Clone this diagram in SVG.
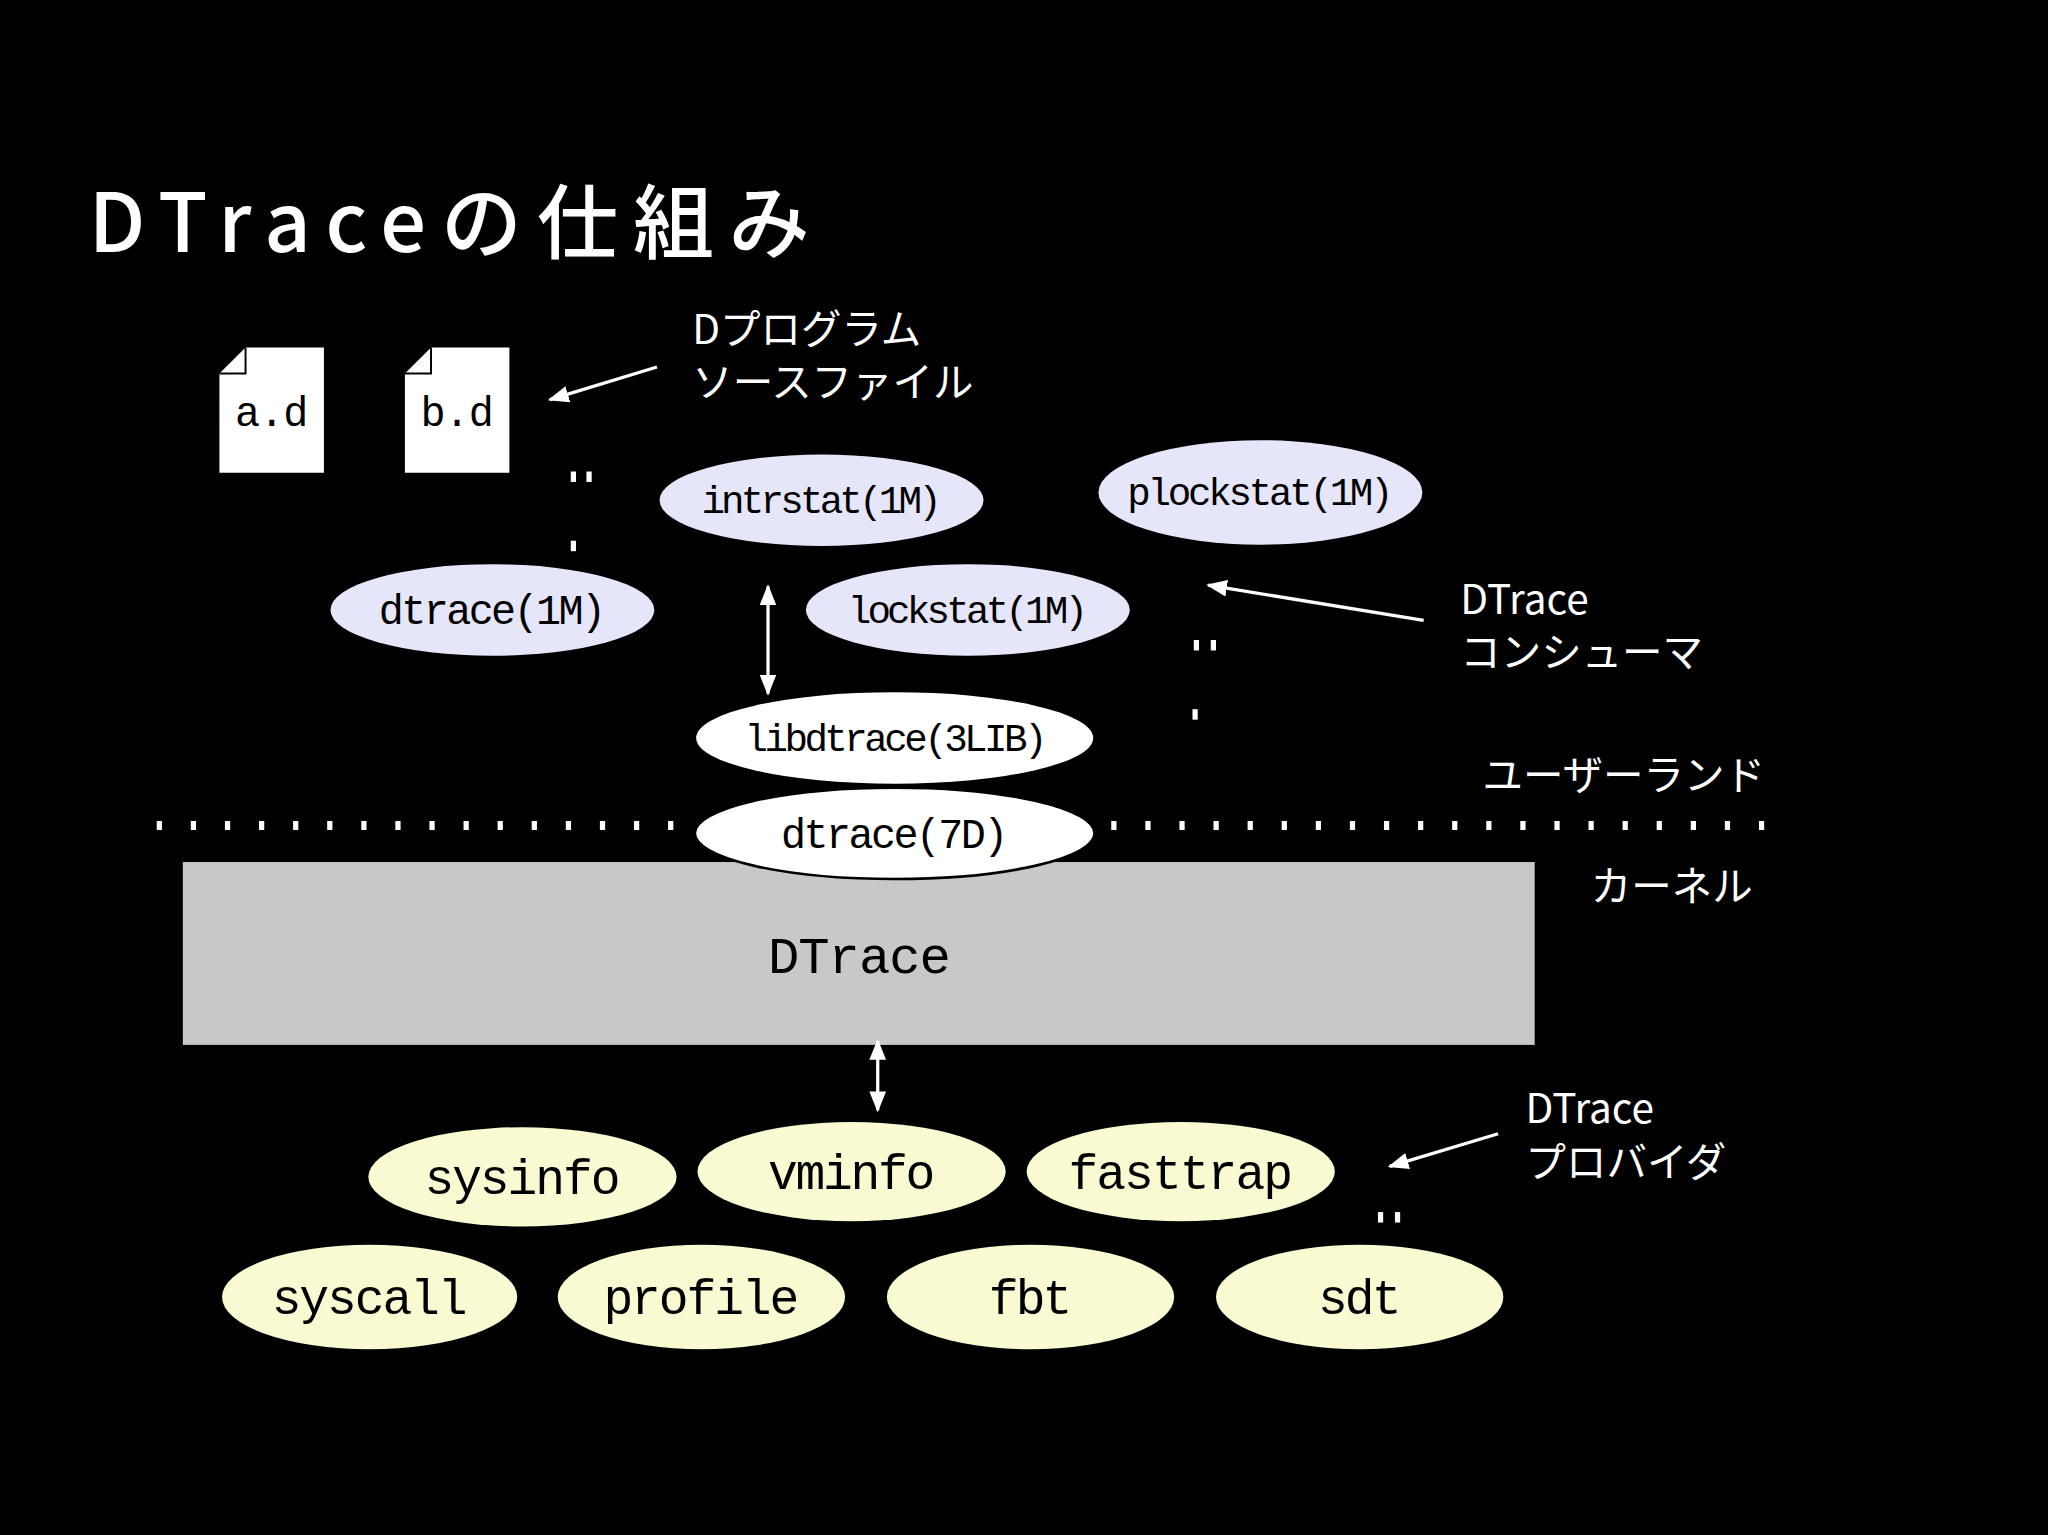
<svg xmlns="http://www.w3.org/2000/svg" width="2048" height="1535" viewBox="0 0 2048 1535">
<style>
.m{font-family:"Liberation Mono","DejaVu Sans Mono",monospace;fill:#000;text-anchor:middle}
.j{font-family:"Noto Sans CJK JP","Noto Sans",sans-serif;fill:#fff;font-size:31px}
.lav{fill:#e6e6fa}
.yel{fill:#fafad2}
.ln{stroke:#fff;stroke-width:2.5;fill:none}
</style>
<defs>
<marker id="ah2" viewBox="0 0 10 10" refX="9" refY="5" markerWidth="16" markerHeight="16" orient="auto-start-reverse" markerUnits="userSpaceOnUse"><path d="M0,1L10,5L0,9z" fill="#fff"/></marker>
</defs>
<rect width="2048" height="1535" fill="#000"/>
<g transform="scale(1.30612)">
<text x="68" y="193" font-family="Noto Sans CJK JP,sans-serif" font-size="62" font-weight="500" fill="#fff" textLength="552">DTraceの仕組み</text>
<g id="file-a"><path d="M188,266H248V362H168V286z" fill="#fff"/><path d="M188,266V286H168" fill="none" stroke="#000" stroke-width="1.5"/><text class="m" x="208" y="326" font-size="32" textLength="56">a.d</text></g>
<g id="file-b"><path d="M330,266H390V362H310V286z" fill="#fff"/><path d="M330,266V286H310" fill="none" stroke="#000" stroke-width="1.5"/><text class="m" x="350" y="326" font-size="32" textLength="56">b.d</text></g>
<g id="label-src"><text class="j" x="530" y="263">Dプログラム</text><text class="j" x="530" y="304">ソースファイル</text></g>
<g id="dots" fill="#fff">
<rect x="437" y="361" width="4" height="8"/><rect x="449" y="361" width="4" height="8"/><rect x="437" y="414" width="4" height="8"/>
<rect x="914" y="490" width="4" height="8"/><rect x="927" y="490" width="4" height="8"/><rect x="913" y="543" width="4" height="8"/>
<rect x="1055" y="928" width="4" height="8"/><rect x="1068" y="928" width="4" height="8"/>
</g>
<g id="n-intrstat"><ellipse class="lav" cx="629" cy="383" rx="124" ry="35"/><text class="m" x="629" y="393" font-size="30" textLength="184">intrstat(1M)</text></g>
<g id="n-plockstat"><ellipse class="lav" cx="965" cy="377" rx="124" ry="40"/><text class="m" x="965" y="387" font-size="30" textLength="204">plockstat(1M)</text></g>
<g id="n-dtrace1m"><ellipse class="lav" cx="377" cy="467" rx="124" ry="35"/><text class="m" x="377" y="478" font-size="32" textLength="174">dtrace(1M)</text></g>
<g id="n-lockstat"><ellipse class="lav" cx="741" cy="467" rx="124" ry="35"/><text class="m" x="741" y="477" font-size="30" textLength="184">lockstat(1M)</text></g>
<g id="n-libdtrace"><ellipse fill="#fff" cx="685" cy="565" rx="152" ry="35"/><text class="m" x="686" y="575" font-size="30" textLength="232">libdtrace(3LIB)</text></g>
<g id="sep"><line x1="120" y1="632" x2="1372" y2="632" stroke="#fff" stroke-width="7" stroke-dasharray="4 22.1"/></g>
<g id="label-consumer"><text class="j" x="1118" y="470">DTrace</text><text class="j" x="1118" y="511">コンシューマ</text></g>
<g id="label-user"><text class="j" x="1135" y="605">ユーザーランド</text></g>
<g id="label-kernel"><text class="j" x="1218" y="690">カーネル</text></g>
<g id="n-dtrace-kernel"><rect x="140" y="660" width="1035" height="140" fill="#c8c8c8"/><text class="m" x="658" y="745" font-size="40" textLength="140">DTrace</text></g>
<g id="n-dtrace7d"><ellipse fill="#fff" stroke="#000" stroke-width="2" cx="685" cy="638" rx="153" ry="35"/><text class="m" x="685" y="649" font-size="32" textLength="174">dtrace(7D)</text></g>
<g id="label-provider"><text class="j" x="1168" y="860">DTrace</text><text class="j" x="1168" y="901">プロバイダ</text></g>
<g id="p-sysinfo"><ellipse class="yel" cx="400" cy="901" rx="118" ry="38"/><text class="m" x="400" y="914" font-size="38" textLength="150">sysinfo</text></g>
<g id="p-vminfo"><ellipse class="yel" cx="652" cy="897" rx="118" ry="38"/><text class="m" x="652" y="910" font-size="38" textLength="128">vminfo</text></g>
<g id="p-fasttrap"><ellipse class="yel" cx="904" cy="897" rx="118" ry="38"/><text class="m" x="904" y="910" font-size="38" textLength="172">fasttrap</text></g>
<g id="p-syscall"><ellipse class="yel" cx="283" cy="993" rx="113" ry="40"/><text class="m" x="283" y="1006" font-size="38" textLength="150">syscall</text></g>
<g id="p-profile"><ellipse class="yel" cx="537" cy="993" rx="110" ry="40"/><text class="m" x="537" y="1006" font-size="38" textLength="150">profile</text></g>
<g id="p-fbt"><ellipse class="yel" cx="789" cy="993" rx="110" ry="40"/><text class="m" x="789" y="1006" font-size="38" textLength="64">fbt</text></g>
<g id="p-sdt"><ellipse class="yel" cx="1041" cy="993" rx="110" ry="40"/><text class="m" x="1041" y="1006" font-size="38" textLength="64">sdt</text></g>
<g id="connectors">
<line class="ln" x1="503" y1="281" x2="421" y2="306" marker-end="url(#ah2)"/>
<line class="ln" x1="1090" y1="475" x2="925" y2="448" marker-end="url(#ah2)"/>
<line class="ln" x1="1147" y1="868" x2="1064" y2="893" marker-end="url(#ah2)"/>
<line class="ln" x1="588" y1="449" x2="588" y2="531" marker-start="url(#ah2)" marker-end="url(#ah2)"/>
<line class="ln" x1="672" y1="797" x2="672" y2="850" marker-start="url(#ah2)" marker-end="url(#ah2)"/>
</g>
</g>
</svg>
